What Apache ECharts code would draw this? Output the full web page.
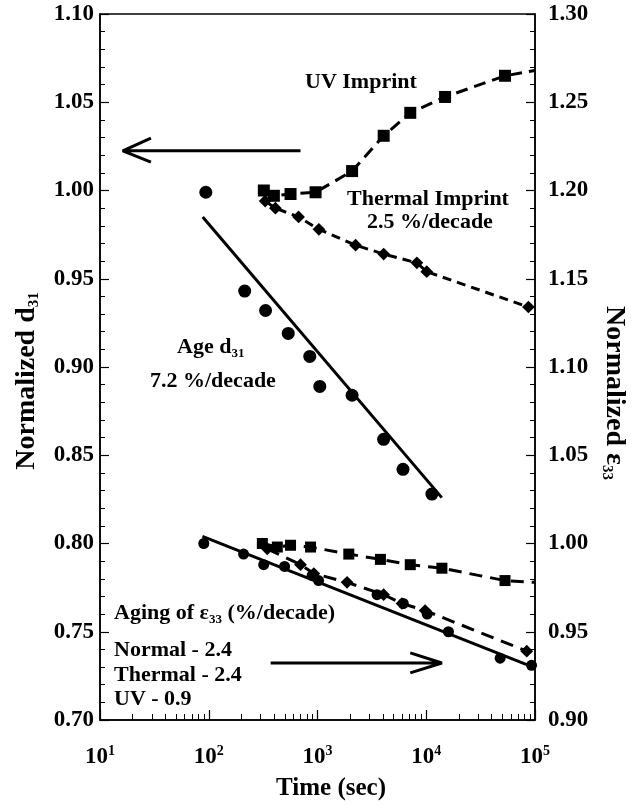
<!DOCTYPE html>
<html>
<head>
<meta charset="utf-8">
<script src="https://cdn.jsdelivr.net/npm/echarts@6/dist/echarts.min.js"></script>
<style>
html,body{margin:0;padding:0;background:#fff;}
#c{width:634px;height:805px;}
</style>
</head>
<body>
<div id="c"></div>
<script>
// ---- Data ----
// Age d31 (left axis)
const ageT   = [94, 214, 333, 538, 849, 1050, 2080, 4055, 6110, 11270];
const ageD31 = [0.999, 0.943, 0.932, 0.919, 0.906, 0.889, 0.884, 0.859, 0.842, 0.828];
const ageFitT = [88, 13900];
const ageFitV = [0.985, 0.826];

// UV imprint eps33 (right axis)
const uvImpT = [321, 397, 565, 960, 2080, 4060, 7130, 14900, 53000];
const uvImpV = [1.200, 1.197, 1.198, 1.199, 1.211, 1.231, 1.244, 1.253, 1.265];
const uvImpEnd = [100000, 1.268];

// Thermal imprint eps33 (right axis)
const thImpT = [330, 410, 670, 1030, 2240, 4060, 8200, 10100, 87000];
const thImpV = [1.194, 1.190, 1.185, 1.178, 1.169, 1.164, 1.159, 1.154, 1.134];

// Aging of eps33 (right axis)
const normT = [90, 209, 320, 498, 893, 1023, 3530, 6150, 10200, 16000, 47800, 93000];
const normV = [1.000, 0.994, 0.988, 0.987, 0.982, 0.979, 0.971, 0.966, 0.960, 0.950, 0.935, 0.931];
const normFitT = [87.5, 96000];
const normFitV = [1.004, 0.930];

const uvT = [311, 427, 565, 863, 1940, 3790, 7130, 13930, 53000];
const uvV = [1.000, 0.998, 0.999, 0.998, 0.994, 0.991, 0.988, 0.986, 0.979];
const uvEnd = [100000, 0.978];

const thT = [345, 698, 925, 1870, 4055, 5980, 9770, 84000];
const thV = [0.997, 0.988, 0.983, 0.978, 0.971, 0.966, 0.962, 0.939];

// Annotation arrows (left-axis data coordinates): start, tip, head1, tip, head2
const leftArrowT = [698, 16.2, 29.4, 16.2, 29.4];
const leftArrowV = [1.0225, 1.0225, 1.0297, 1.0225, 1.0161];
const rightArrowT = [371, 13930, 7130, 13930, 7130];
const rightArrowV = [0.7323, 0.7323, 0.7380, 0.7323, 0.7267];

// Ticks / labels
const xTickExponents = [1, 2, 3, 4, 5];
const yLeftRange = [0.70, 1.10];
const yRightRange = [0.90, 1.30];
const yStep = 0.05;

const FONT = 'Liberation Serif';
const pair = (a, b) => a.map((t, i) => [t, b[i]]);
const minorTicks = [];
for (let e = 1; e < 5; e++) for (let m = 2; m <= 9; m++) minorTicks.push(m * Math.pow(10, e));

const chart = echarts.init(document.getElementById('c'), null, {renderer: 'canvas'});

const tickLabel = {fontFamily: FONT, fontWeight: 'bold', fontSize: 23, color: '#000'};
const lineBase = (width, type) => ({color: '#000', width: width, type: type});

function markerSeries(name, t, v, yIdx, symbol, size, rotate, lineType, extra) {
  const data = pair(t, v);
  if (extra) data.push({value: extra, symbol: 'none'});
  return {
    name: name, type: 'line', xAxisIndex: 0, yAxisIndex: yIdx, data: data,
    symbol: symbol, symbolSize: size, symbolRotate: rotate || 0, showSymbol: true,
    itemStyle: {color: '#000'},
    lineStyle: lineType ? lineBase(3, lineType) : {width: 0, opacity: 0},
    z: 3, silent: true
  };
}
function plainLine(name, t, v, yIdx, type) {
  return {
    name: name, type: 'line', xAxisIndex: 0, yAxisIndex: yIdx, data: pair(t, v),
    symbol: 'none', lineStyle: lineBase(3, type), z: 2, silent: true
  };
}

const option = {
  animation: false,
  backgroundColor: '#fff',
  grid: {left: 100, right: 99, top: 14, bottom: 85, containLabel: false, outerBoundsMode: 'none',
         show: true, borderColor: '#000', borderWidth: 1.5, backgroundColor: 'transparent'},
  xAxis: [
    {
      type: 'log', logBase: 10, min: 10, max: 100000, position: 'bottom',
      axisLine: {show: true, lineStyle: {color: '#000', width: 1.5}},
      axisTick: {show: true, inside: true, length: 10, lineStyle: {color: '#000', width: 1.2}},
      splitLine: {show: false},
      axisLabel: {
        margin: 24,
        formatter: function (v) { return '{b|10}{s|' + Math.round(Math.log10(v)) + '}'; },
        rich: {
          b: {fontFamily: FONT, fontWeight: 'bold', fontSize: 23, lineHeight: 26, color: '#000', verticalAlign: 'middle'},
          s: {fontFamily: FONT, fontWeight: 'bold', fontSize: 14, lineHeight: 10, color: '#000', verticalAlign: 'top'}
        }
      },
      name: 'Time (sec)', nameLocation: 'middle', nameGap: 56,
      nameTextStyle: {fontFamily: FONT, fontWeight: 'bold', fontSize: 25, color: '#000', padding: [0, 0, 0, 27]}
    },
    {
      type: 'log', logBase: 10, min: 10, max: 100000, position: 'bottom', gridIndex: 0,
      axisLine: {show: false},
      axisTick: {show: true, inside: true, length: 6, customValues: minorTicks, lineStyle: {color: '#000', width: 1}},
      axisLabel: {show: false},
      splitLine: {show: false}
    }
  ],
  yAxis: [
    {
      type: 'value', position: 'left', min: yLeftRange[0], max: yLeftRange[1], interval: yStep,
      axisLine: {show: true, lineStyle: {color: '#000', width: 1.5}},
      axisTick: {show: true, inside: true, length: 9, lineStyle: {color: '#000', width: 1.2}},
      minorTick: {show: true, splitNumber: 5, length: 5, lineStyle: {color: '#000', width: 1}},
      splitLine: {show: false},
      axisLabel: Object.assign({margin: 6, formatter: v => v.toFixed(2)}, tickLabel),
      name: '{m|Normalized d}{s|31}', nameLocation: 'middle', nameRotate: 90, nameGap: 58,
      nameTextStyle: {
        padding: [0, 28, 0, 0],
        rich: {
          m: {fontFamily: FONT, fontWeight: 'bold', fontSize: 28, lineHeight: 30, color: '#000'},
          s: {fontFamily: FONT, fontWeight: 'bold', fontSize: 15, lineHeight: 10, color: '#000', verticalAlign: 'bottom'}
        }
      }
    },
    {
      type: 'value', position: 'right', min: yRightRange[0], max: yRightRange[1], interval: yStep,
      axisLine: {show: true, lineStyle: {color: '#000', width: 1.5}},
      axisTick: {show: true, inside: true, length: 9, lineStyle: {color: '#000', width: 1.2}},
      minorTick: {show: true, splitNumber: 5, length: 5, lineStyle: {color: '#000', width: 1}},
      splitLine: {show: false},
      axisLabel: Object.assign({margin: 13, formatter: v => v.toFixed(2)}, tickLabel),
      name: '{m|Normalized ε}{s|33}', nameLocation: 'middle', nameRotate: -90, nameGap: 64,
      nameTextStyle: {
        padding: [0, 0, 0, 52],
        rich: {
          m: {fontFamily: FONT, fontWeight: 'bold', fontSize: 28, lineHeight: 30, color: '#000'},
          s: {fontFamily: FONT, fontWeight: 'bold', fontSize: 15, lineHeight: 10, color: '#000', verticalAlign: 'bottom'}
        }
      }
    }
  ],
  series: [
    markerSeries('Age d31', ageT, ageD31, 0, 'circle', 13, 0, null),
    plainLine('Age d31 fit', ageFitT, ageFitV, 0, 'solid'),
    markerSeries('UV imprint', uvImpT, uvImpV, 1, 'rect', 12, 0, [12, 7], uvImpEnd),
    markerSeries('Thermal imprint', thImpT, thImpV, 1, 'rect', 9, 45, [9, 6]),
    markerSeries('Normal', normT, normV, 1, 'circle', 11, 0, null),
    plainLine('Normal fit', normFitT, normFitV, 1, 'solid'),
    markerSeries('UV', uvT, uvV, 1, 'rect', 11, 0, [13, 8], uvEnd),
    markerSeries('Thermal', thT, thV, 1, 'rect', 9, 45, [13, 8]),
    plainLine('arrow left', leftArrowT, leftArrowV, 0, 'solid'),
    plainLine('arrow right', rightArrowT, rightArrowV, 0, 'solid')
  ],
  graphic: []
};

const annFont = {fontFamily: FONT, fontWeight: 'bold', fontSize: 22, fill: '#000'};
function ann(x, y, text, rich) {
  const style = Object.assign({text: text, x: 0, y: 0, align: 'left', verticalAlign: 'middle'}, annFont);
  if (rich) {
    style.rich = {
      m: {fontFamily: FONT, fontWeight: 'bold', fontSize: 22, lineHeight: 26, fill: '#000'},
      s: {fontFamily: FONT, fontWeight: 'bold', fontSize: 13, lineHeight: 9, fill: '#000', verticalAlign: 'bottom'}
    };
  }
  return {type: 'text', x: x, y: y, style: style, z: 10};
}
option.graphic = [
  ann(305, 82, 'UV Imprint'),
  ann(347, 199, 'Thermal Imprint'),
  ann(367, 222, '2.5 %/decade'),
  ann(177, 347, '{m|Age d}{s|31}', true),
  ann(150, 381, '7.2 %/decade'),
  ann(114, 613, '{m|Aging of ε}{s|33}{m| (%/decade)}', true),
  ann(114, 650, 'Normal - 2.4'),
  ann(114, 675, 'Thermal - 2.4'),
  ann(114, 699, 'UV - 0.9')
];

chart.setOption(option);
</script>
</body>
</html>
